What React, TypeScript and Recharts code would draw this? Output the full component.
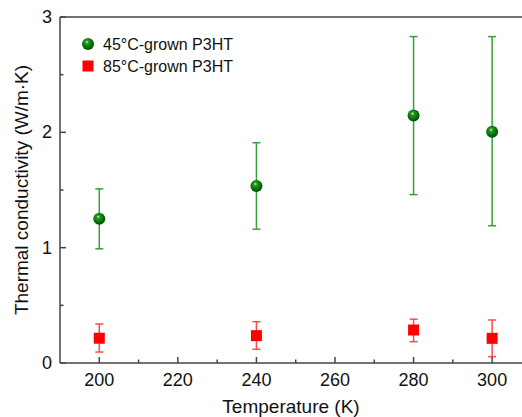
import { ComposedChart, Scatter, XAxis, YAxis, ErrorBar, ReferenceLine, Label } from 'recharts';

const temps = [200, 240, 280, 300];

const grown45 = [1.25, 1.535, 2.145, 2.005];
const grown45Low = [0.99, 1.16, 1.46, 1.19];
const grown45High = [1.51, 1.91, 2.83, 2.83];

const grown85 = [0.215, 0.237, 0.286, 0.214];
const grown85Low = [0.095, 0.119, 0.185, 0.055];
const grown85High = [0.338, 0.358, 0.38, 0.373];

const xTicks = [200, 210, 220, 230, 240, 250, 260, 270, 280, 290, 300];
const yTicks = [0, 0.5, 1, 1.5, 2, 2.5, 3];

const seriesNames = ['45\u00B0C-grown P3HT', '85\u00B0C-grown P3HT'];

const FONT = '"Liberation Sans", Arial, sans-serif';
const AXIS = '#444';

const build = (vals: number[], lo: number[], hi: number[]) =>
  temps.map((t, i) => ({ x: t, y: vals[i], err: [vals[i] - lo[i], hi[i] - vals[i]] }));

const data45 = build(grown45, grown45Low, grown45High);
const data85 = build(grown85, grown85Low, grown85High);

const Sphere = ({ cx, cy, r = 6 }: any) => <circle cx={cx} cy={cy} r={r} fill="url(#sphereGrad)" />;

const Square = ({ cx, cy }: any) => <rect x={cx - 5.5} y={cy - 5.5} width={11} height={11} fill="#ff0000" />;

const XTick = ({ x, y, payload }: any) => {
  const major = payload.value % 20 === 0;
  return (
    <g>
      <line x1={x} x2={x} y1={y} y2={y - (major ? 6 : 3.5)} stroke={AXIS} strokeWidth={1.5} />
      {major && (
        <text x={x} y={y + 23} textAnchor="middle" fontSize={18} fontFamily={FONT} fill="#111">
          {payload.value}
        </text>
      )}
    </g>
  );
};

const YTick = ({ x, y, payload }: any) => {
  const major = Number.isInteger(payload.value);
  return (
    <g>
      <line x1={x} x2={x + (major ? 6 : 3.5)} y1={y} y2={y} stroke={AXIS} strokeWidth={1.5} />
      {major && (
        <text x={x - 8} y={y + 6} textAnchor="end" fontSize={18} fontFamily={FONT} fill="#111">
          {payload.value}
        </text>
      )}
    </g>
  );
};

const YLabel = ({ viewBox }: any) => {
  const cy = viewBox.y + viewBox.height / 2;
  return (
    <text
      x={28}
      y={cy}
      transform={`rotate(-90 28 ${cy})`}
      textAnchor="middle"
      fontSize={19}
      fontFamily={FONT}
      fill="#111"
    >
      Thermal conductivity (W/m·K)
    </text>
  );
};

export default function App() {
  return (
    <div style={{ position: 'absolute', left: 0, top: 0, width: 522, height: 417, background: '#fff' }}>
      <ComposedChart width={522} height={417} margin={{ top: 17, right: 0, bottom: 0, left: 0 }}>
        <defs>
          <radialGradient id="sphereGrad" cx="45%" cy="40%" r="60%" fx="40%" fy="32%">
            <stop offset="0%" stopColor="#e8f5e8" />
            <stop offset="22%" stopColor="#2a9a2a" />
            <stop offset="70%" stopColor="#007000" />
            <stop offset="100%" stopColor="#004a00" />
          </radialGradient>
        </defs>
        <XAxis
          type="number"
          dataKey="x"
          domain={[190, 307.6]}
          ticks={xTicks}
          allowDataOverflow
          height={54}
          tickSize={0}
          tickMargin={0}
          tickLine={false}
          tick={<XTick />}
          stroke={AXIS}
          strokeWidth={1.5}
        >
          <Label value="Temperature (K)" position="insideBottom" offset={4} fontSize={19} fontFamily={FONT} fill="#111" />
        </XAxis>
        <YAxis
          type="number"
          dataKey="y"
          domain={[0, 3]}
          ticks={yTicks}
          width={60}
          tickSize={0}
          tickMargin={0}
          tickLine={false}
          tick={<YTick />}
          stroke={AXIS}
          strokeWidth={1.5}
        >
          <Label content={<YLabel />} />
        </YAxis>
        <ReferenceLine y={3} stroke={AXIS} strokeWidth={1.5} />
        <Scatter name={seriesNames[0]} data={data45} dataKey="y" shape={<Sphere />} isAnimationActive={false}>
          <ErrorBar dataKey="err" direction="y" width={4} stroke="#3a9e3a" strokeWidth={1.5} />
        </Scatter>
        <Scatter name={seriesNames[1]} data={data85} dataKey="y" shape={<Square />} isAnimationActive={false}>
          <ErrorBar dataKey="err" direction="y" width={4} stroke="#ff4a4a" strokeWidth={1.5} />
        </Scatter>
      </ComposedChart>
      <svg width={220} height={80} style={{ position: 'absolute', left: 70, top: 28 }}>
        <circle cx={18} cy={16} r={6} fill="url(#sphereGrad)" />
        <text x={33} y={22} fontSize={16} fontFamily={FONT} fill="#111">
          {seriesNames[0]}
        </text>
        <rect x={12.5} y={32.5} width={11} height={11} fill="#ff0000" />
        <text x={33} y={44} fontSize={16} fontFamily={FONT} fill="#111">
          {seriesNames[1]}
        </text>
      </svg>
    </div>
  );
}
